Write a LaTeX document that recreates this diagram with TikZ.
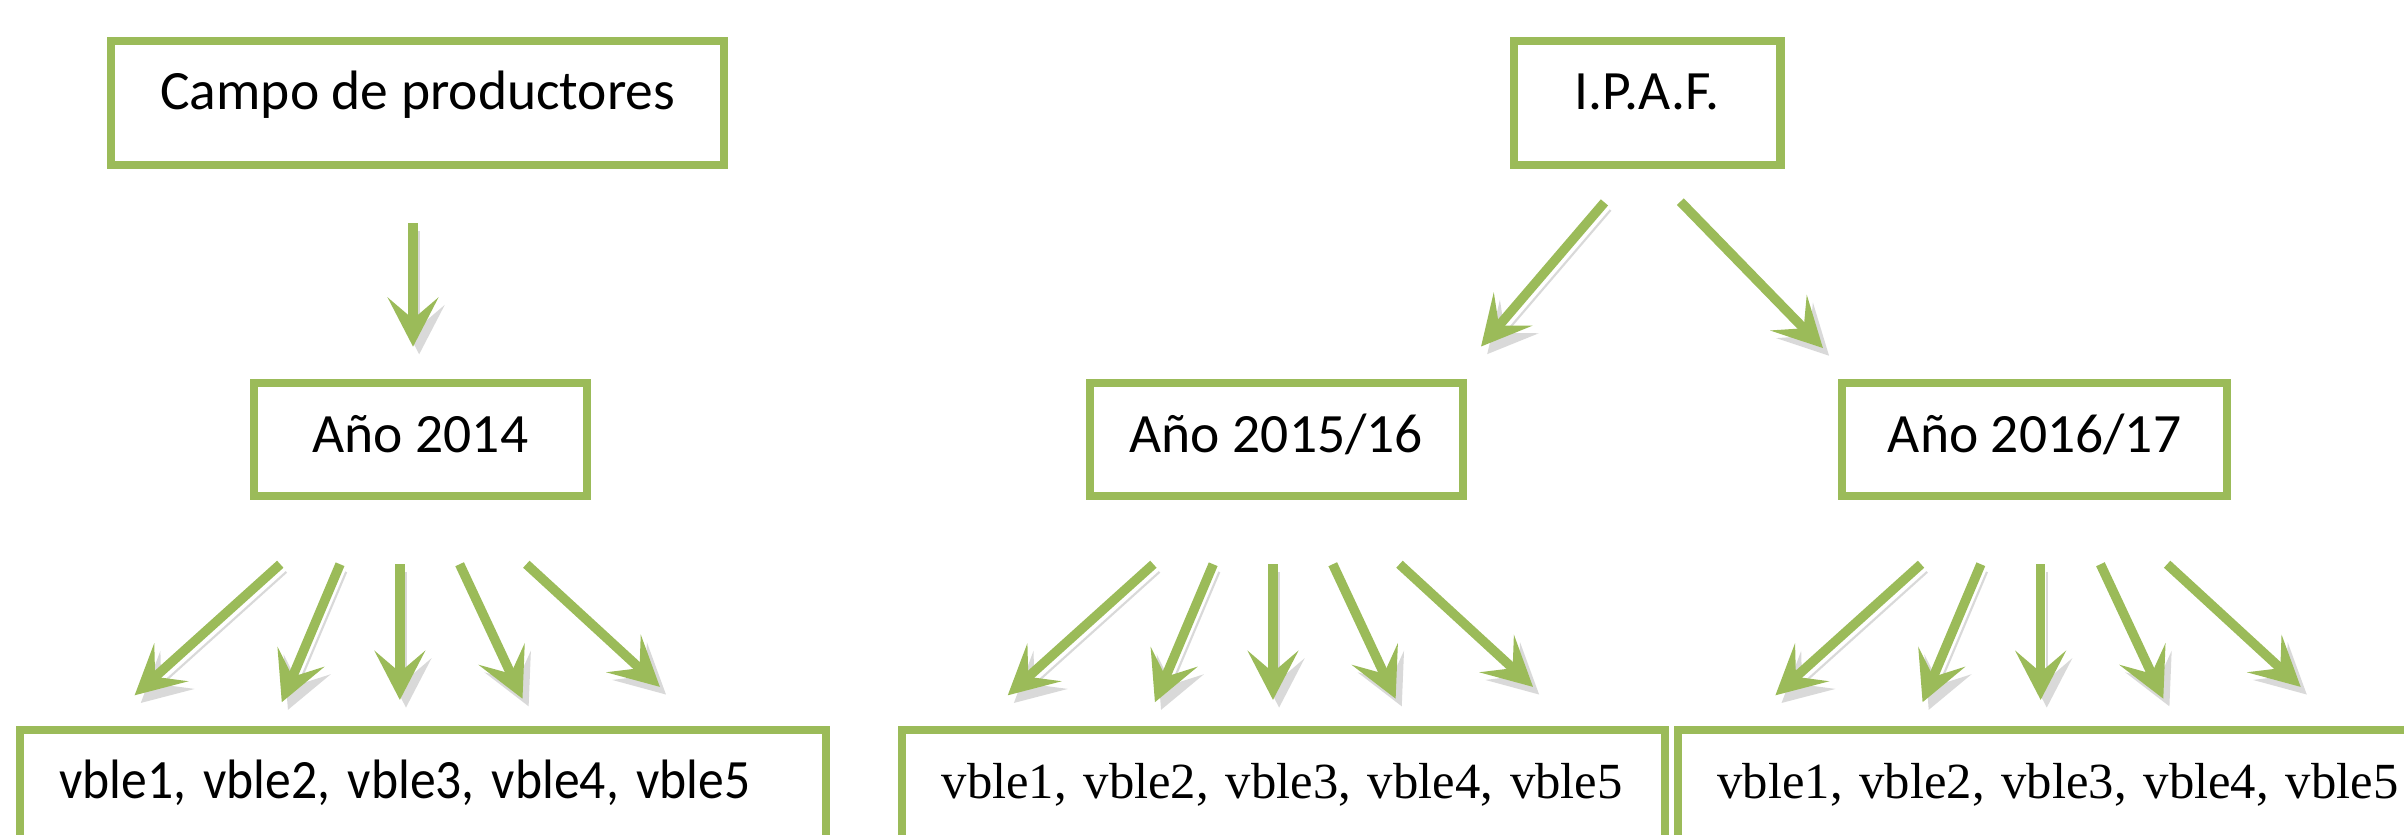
\documentclass[tikz,border=0pt]{standalone}
\usepackage{fontspec}
\setmainfont{Carlito}
\newfontfamily\vblfont{Liberation Serif}
\definecolor{boxgreen}{RGB}{155,187,89}
\usetikzlibrary{arrows.meta}

\begin{document}
\begin{tikzpicture}[x=0.1mm, y=-0.1mm,
    box/.style={draw=boxgreen, line width=0.53mm, fill=white, outer sep=0pt,
      inner xsep=2.57mm, inner ysep=2.5mm, text height=2mm,
      font=\fontsize{10.3}{12}\selectfont},
    topbox/.style={box, anchor=north, text depth=1.08mm},
    yearbox/.style={box, anchor=north, text depth=0.35mm},
    varbox/.style={box, anchor=north west, text depth=5mm, align=left},
    arrow/.style={draw=boxgreen, line width=0.62mm,
      -{Stealth[length=3.2mm, width=3.3mm, inset=1.4mm]},
      preaction={draw=black!15, transform canvas={shift={(0.4mm,-0.5mm)}}}}]
  \clip (0,0) rectangle (1568,544);
  % Sources
  \node[topbox, minimum width=40mm] (campo) at (272.5,26.6) {Campo de productores};
  \node[topbox, minimum width=17.38mm] (ipaf) at (1074.4,26.6) {I.P.A.F.};
  % Years
  \node[yearbox, minimum width=21.76mm] (y2014) at (274.2,250) {Año 2014};
  \node[yearbox, minimum width=24.34mm] (y2015) at (832.5,250) {Año 2015/16};
  \node[yearbox, minimum width=25.11mm] (y2016) at (1327,250) {Año 2016/17};
  % Variables
  \node[varbox, text width=47.46mm] (v2014) at (13,476)
    {\scalebox{0.93}[1]{vble1, vble2, vble3, vble4, vble5}};
  \node[varbox, text width=44.61mm, font=\vblfont\fontsize{9.4}{11}\selectfont]
    (v2015) at (588.5,476) {vble1, vble2, vble3, vble4, vble5};
  \node[varbox, text width=47.36mm, font=\vblfont\fontsize{9.4}{11}\selectfont]
    (v2016) at (1094.5,476) {vble1, vble2, vble3, vble4, vble5};
  % Arrows below the sources
  \coordinate (ca) at (269.4,145.7);
  \coordinate (cb) at (269.4,226.1);
  \coordinate (ia) at (1046.5,132);
  \coordinate (ib) at (966,226);
  \coordinate (ic) at (1096,131.5);
  \coordinate (id) at (1189,227);
  \draw[arrow] (ca) -- (cb);
  \draw[arrow] (ia) -- (ib);
  \draw[arrow] (ic) -- (id);
  % Fans below the years
  \foreach \c [count=\k] in {260.8,830.3,1331}{
    \foreach \dx/\ex/\ey [count=\j] in
      {-78/-173/453.5, -39/-77/458, 0/0/456.5, 39/80/455.7, 82.5/169.6/448}{
      \coordinate (s\k\j) at ({\c+(\dx)},368);
      \coordinate (e\k\j) at ({\c+(\ex)},\ey);
      \draw[arrow] (s\k\j) -- (e\k\j);
    }
  }
\end{tikzpicture}
\end{document}
